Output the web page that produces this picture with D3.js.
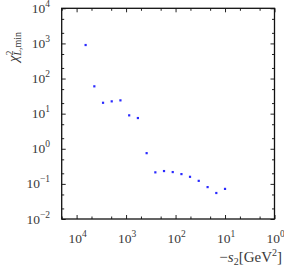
<!DOCTYPE html>
<html><head><meta charset="utf-8">
<script src="https://cdn.jsdelivr.net/npm/d3@7"></script>
<style>body{margin:0;background:#fff}svg{display:block}</style>
</head><body>
<script>
const s2Values = [6570, 4380, 2920, 1950, 1300, 865, 577, 384, 256, 171, 114, 76, 51, 34, 22.5, 15, 10];
const chi2Values = [900, 60, 20.4, 22.4, 23.9, 8.95, 7.5, 0.75, 0.213, 0.232, 0.217, 0.19, 0.159, 0.122, 0.081, 0.055, 0.072];
const xMajorTicks = [1e4, 1e3, 1e2, 1e1, 1e0];
const xExponents = ["4", "3", "2", "1", "0"];
const xMinorTicks = [2e4, 5e3, 2e3, 5e2, 2e2, 5e1, 2e1, 5, 2];
const yMajorTicks = [1e4, 1e3, 1e2, 1e1, 1e0, 1e-1, 1e-2];
const yExponents = ["4", "3", "2", "1", "0", "\u22121", "\u22122"];
const yMinorTicks = [5e3, 2e3, 5e2, 2e2, 5e1, 2e1, 5, 2, 0.5, 0.2, 0.05, 0.02];
const xDomain = [2e4, 1];
const yDomain = [1e-2, 1e4];

const W = 284, H = 272;
const m = {l: 61.7, r: 274.5, t: 8.3, b: 219};
const svg = d3.select("body").append("svg").attr("width", W).attr("height", H);
const x = d3.scaleLog().domain(xDomain).range([m.l, m.r]);
const y = d3.scaleLog().domain(yDomain).range([m.b, m.t]);
const font = "'Liberation Serif', 'DejaVu Serif', serif";
const textCol = "#3a3a3a";

function axisGroup(axis, tx, ty) {
  const g = svg.append("g").attr("transform", `translate(${tx},${ty})`).call(axis);
  g.select(".domain").remove();
  g.selectAll("line").attr("stroke", "#222").attr("stroke-width", 1);
  g.selectAll("text").remove();
  return g;
}
// major and minor ticks on all four sides, pointing inward
axisGroup(d3.axisBottom(x).tickValues(xMajorTicks).tickSize(-4), 0, m.b);
axisGroup(d3.axisBottom(x).tickValues(xMinorTicks).tickSize(-2.5), 0, m.b);
axisGroup(d3.axisTop(x).tickValues(xMajorTicks).tickSize(-4), 0, m.t);
axisGroup(d3.axisTop(x).tickValues(xMinorTicks).tickSize(-2.5), 0, m.t);
axisGroup(d3.axisLeft(y).tickValues(yMajorTicks).tickSize(-4), m.l, 0);
axisGroup(d3.axisLeft(y).tickValues(yMinorTicks).tickSize(-2.5), m.l, 0);
axisGroup(d3.axisRight(y).tickValues(yMajorTicks).tickSize(-4), m.r, 0);
axisGroup(d3.axisRight(y).tickValues(yMinorTicks).tickSize(-2.5), m.r, 0);

svg.append("rect").attr("x", m.l).attr("y", m.t).attr("width", m.r - m.l).attr("height", m.b - m.t)
  .attr("fill", "none").attr("stroke", "#111").attr("stroke-width", 1.3);

// x tick labels
xMajorTicks.forEach((v, i) => {
  const t = svg.append("text").attr("x", x(v) + 1).attr("y", 243).attr("text-anchor", "middle")
    .attr("font-family", font).attr("font-size", 13.5).attr("fill", textCol);
  t.append("tspan").text("10");
  t.append("tspan").attr("dy", -6).attr("font-size", 9.5).text(xExponents[i]);
});
// y tick labels
yMajorTicks.forEach((v, i) => {
  const t = svg.append("text").attr("x", 50).attr("y", y(v) + 4.5).attr("text-anchor", "end")
    .attr("font-family", font).attr("font-size", 13.5).attr("fill", textCol);
  t.append("tspan").text("10");
  t.append("tspan").attr("dy", -6).attr("font-size", 9.5).text(yExponents[i]);
});

// axis titles
const xl = svg.append("text").attr("x", 282).attr("y", 262).attr("text-anchor", "end")
  .attr("font-family", font).attr("font-size", 15).attr("fill", textCol);
xl.append("tspan").text("\u2212");
xl.append("tspan").attr("font-style", "italic").text("s");
xl.append("tspan").attr("dy", 3).attr("font-size", 10).text("2");
xl.append("tspan").attr("dy", -3).text("[GeV");
xl.append("tspan").attr("dy", -6).attr("font-size", 10).text("2");
xl.append("tspan").attr("dy", 6).text("]");

const yl = svg.append("text").attr("transform", "translate(18,47) rotate(-90)").attr("text-anchor", "middle")
  .attr("font-family", font).attr("font-size", 15).attr("fill", textCol);
yl.append("tspan").attr("font-style", "italic").text("\u03c7");
yl.append("tspan").attr("dy", -5).attr("font-size", 10).text("2");
yl.append("tspan").attr("dx", -5).attr("dy", 8).attr("font-size", 10).attr("font-style", "italic").text("L");
yl.append("tspan").attr("font-size", 10).text(",min");

// data points
svg.append("g").selectAll("rect").data(s2Values).join("rect")
  .attr("x", (d) => x(d) - 1.1).attr("y", (d, i) => y(chi2Values[i]) - 1.1)
  .attr("width", 2.2).attr("height", 2.2).attr("fill", "#2a2aff");
</script>
</body></html>
